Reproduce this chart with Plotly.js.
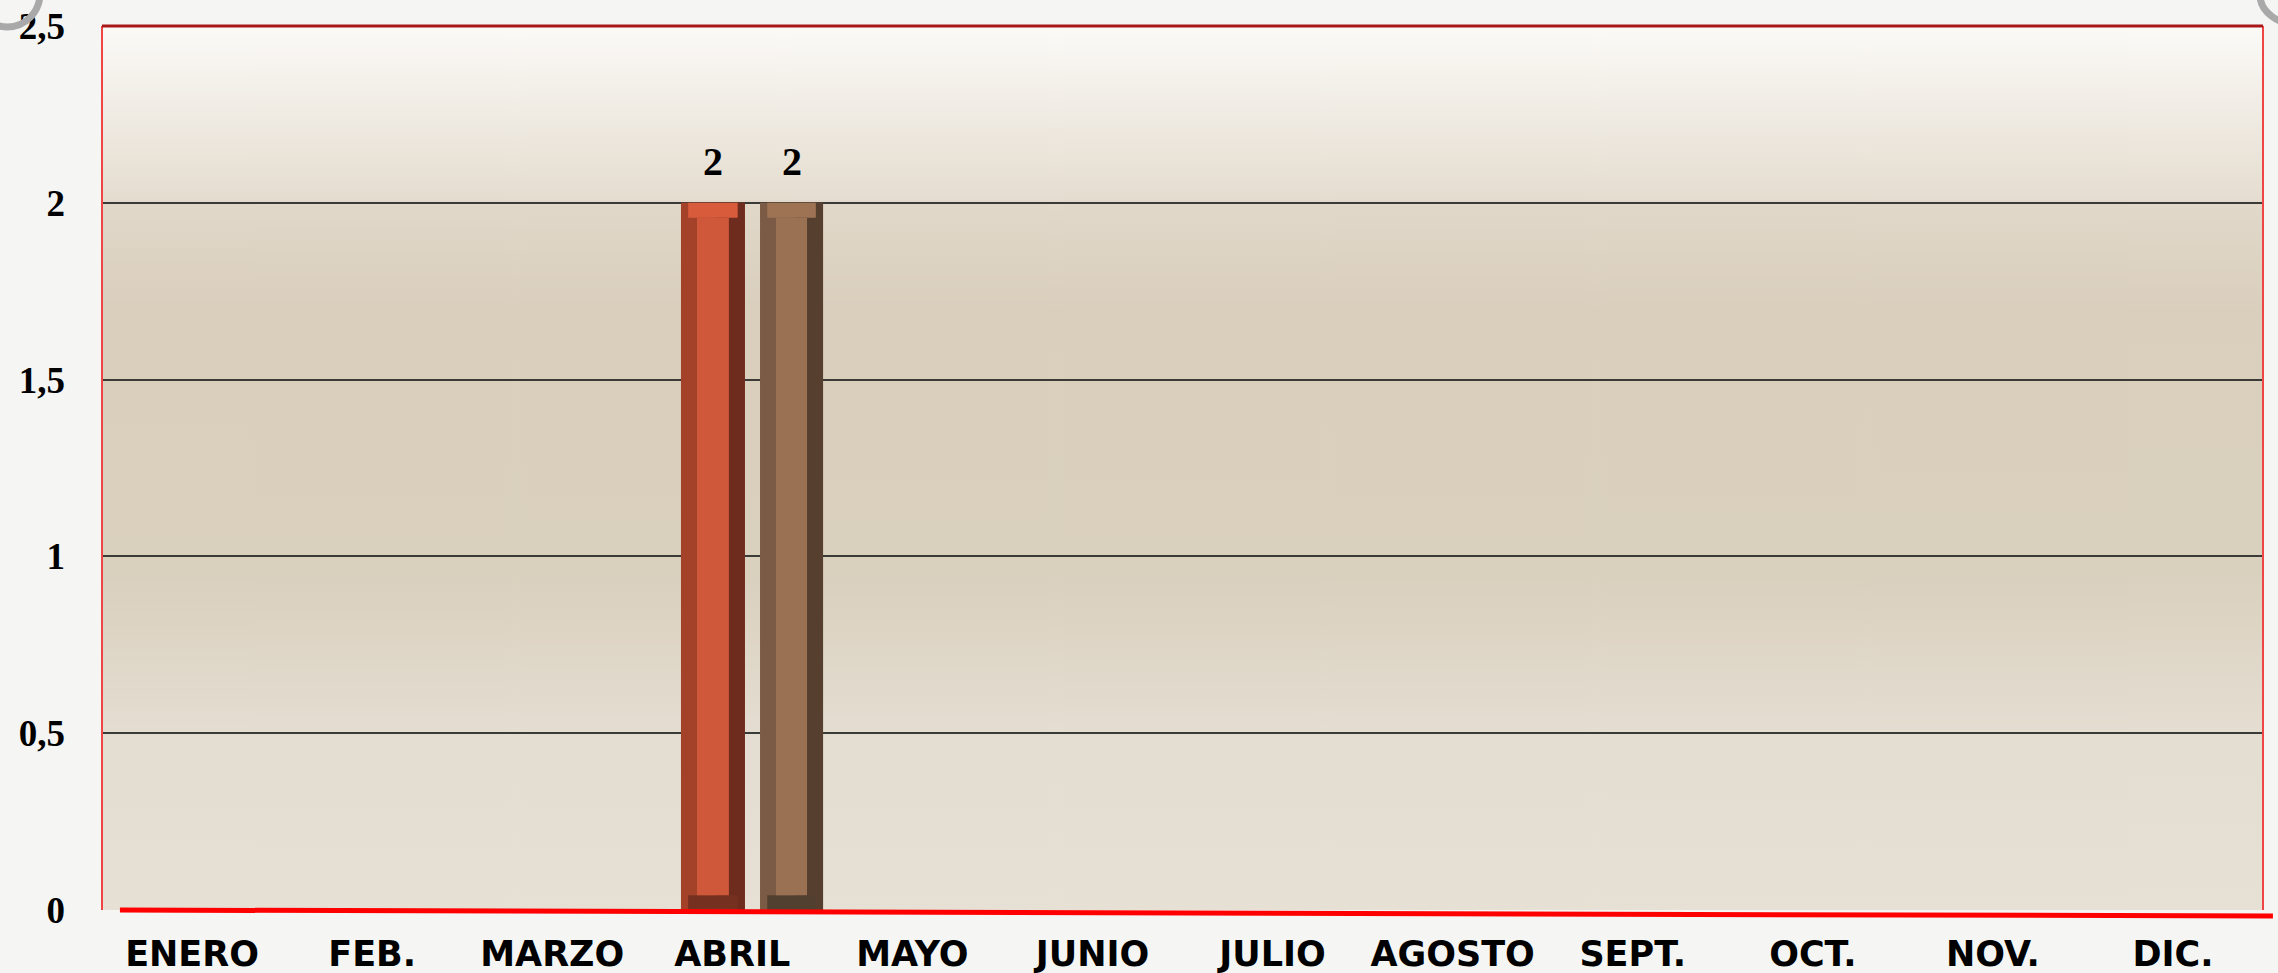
<!DOCTYPE html>
<html>
<head>
<meta charset="utf-8">
<script src="https://cdn.plot.ly/plotly-3.0.1.min.js"></script>
<style>
html,body{margin:0;padding:0;background:#F5F5F4;}
#chart{width:2278px;height:973px;}
</style>
</head>
<body>
<div id="chart"></div>
<script>
// ---- data ----
const categories = ['ENERO','FEB.','MARZO','ABRIL','MAYO','JUNIO','JULIO','AGOSTO','SEPT.','OCT.','NOV.','DIC.'];
const series1 = [0,0,0,2,0,0,0,0,0,0,0,0];
const series2 = [0,0,0,2,0,0,0,0,0,0,0,0];
const yTickVals = [0,0.5,1,1.5,2,2.5];

// ---- styling ----
const bevelX = 0.089;   // bevel width in category units
const bevelY = 0.042;   // bevel height in y units
const barDefs = [
  {vals: series1, offset: -0.285, width: 0.355, left: '#A34129', right: '#6E2C1E', face: '#CF573A', top: '#D85B3C', bottom: '#76301F'},
  {vals: series2, offset: 0.154, width: 0.35, left: '#7B5B45', right: '#573F30', face: '#9A7253', top: '#9D7354', bottom: '#51402F'}
];

const traces = [];
barDefs.forEach(d => {
  traces.push({type:'bar', x:categories, y:d.vals, offset:d.offset, width:d.width,
    marker:{color:d.left, line:{width:0}}, hoverinfo:'skip', showlegend:false});
  traces.push({type:'bar', x:categories, y:d.vals, offset:d.offset + d.width*0.55, width:d.width*0.45,
    marker:{color:d.right, line:{width:0}}, hoverinfo:'skip', showlegend:false});
  traces.push({type:'bar', x:categories,
    y:d.vals.map(v => v > 0 ? bevelY : 0),
    base:d.vals.map(v => v > 0 ? v - bevelY : 0),
    offset:d.offset + bevelX*0.45, width:d.width - bevelX*0.9,
    marker:{color:d.top, line:{width:0}}, hoverinfo:'skip', showlegend:false});
  traces.push({type:'bar', x:categories,
    y:d.vals.map(v => v > 0 ? bevelY : 0),
    offset:d.offset + bevelX*0.45, width:d.width - bevelX*0.9,
    marker:{color:d.bottom, line:{width:0}}, hoverinfo:'skip', showlegend:false});
  traces.push({type:'bar', x:categories,
    y:d.vals.map(v => v > 0 ? v - 2*bevelY : 0),
    base:d.vals.map(v => v > 0 ? bevelY : 0),
    offset:d.offset + bevelX, width:d.width - 2*bevelX,
    marker:{color:d.face, line:{width:0}}, hoverinfo:'skip', showlegend:false});
});

const annotations = [];
barDefs.forEach(d => {
  d.vals.forEach((v, i) => {
    if (v > 0) {
      annotations.push({x: i + d.offset + d.width/2, y: v, xref:'x', yref:'y',
        text: String(v), showarrow:false, yanchor:'bottom', yshift:17,
        font:{family:'Liberation Serif, serif', size:40, color:'#000', weight:700}});
    }
  });
});

function gradientImage() {
  const c = document.createElement('canvas');
  c.width = 8; c.height = 884;
  const g = c.getContext('2d');
  const gr = g.createLinearGradient(0,0,0,884);
  gr.addColorStop(0, '#FBFAF7');
  gr.addColorStop(0.195, '#E5DDD0');
  gr.addColorStop(0.2, '#E1D8CA');
  gr.addColorStop(0.32, '#DACFBD');
  gr.addColorStop(0.62, '#DAD0BE');
  gr.addColorStop(0.8, '#E4DDD1');
  gr.addColorStop(1, '#E6E0D5');
  g.fillStyle = gr;
  g.fillRect(0,0,8,884);
  return c.toDataURL();
}

const layout = {
  width: 2278, height: 973,
  margin: {l:102, r:15, t:26, b:63, pad:0},
  paper_bgcolor: '#F5F5F4',
  plot_bgcolor: 'rgba(0,0,0,0)',
  separators: ',.',
  barmode: 'overlay',
  showlegend: false,
  xaxis: {
    type:'category', range:[-0.5, 11.5], showgrid:false, zeroline:false, showline:false,
    ticks:'', ticklabelstandoff: 20,
    tickfont:{family:'DejaVu Sans, sans-serif', size:35, color:'#000', weight:700}
  },
  yaxis: {
    range:[0, 2.5], tickvals: yTickVals, showgrid:true, gridcolor:'#3A3A36', gridwidth:2,
    zeroline:false, showline:false, ticks:'', ticklabelstandoff: 36,
    tickfont:{family:'Liberation Serif, serif', size:37, color:'#000', weight:700}
  },
  images: [{source: gradientImage(), xref:'paper', yref:'paper', x:0, y:1, sizex:1, sizey:1,
    sizing:'stretch', xanchor:'left', yanchor:'top', layer:'below'}],
  shapes: [
    {type:'line', xref:'paper', yref:'paper', x0:0, x1:0, y0:0, y1:1, line:{color:'#F04545', width:2}},
    {type:'line', xref:'paper', yref:'paper', x0:1, x1:1, y0:0, y1:1, line:{color:'#F04545', width:2}},
    {type:'line', xref:'paper', yref:'paper', x0:0, x1:1, y0:1, y1:1, line:{color:'#A81818', width:3}},
    {type:'line', xref:'paper', yref:'paper', x0:0.0083, x1:1.0046, y0:0, y1:-0.0068, line:{color:'#FF0000', width:5}},
    // decorative binding rings at the corners
    {type:'circle', xref:'paper', yref:'paper', x0:-0.0588, x1:-0.0287, y0:0.9989, y1:1.0747,
      line:{color:'#A9A9A9', width:7}, fillcolor:'rgba(0,0,0,0)', layer:'above'},
    {type:'circle', xref:'paper', yref:'paper', x0:0.9986, x1:1.0356, y0:1.0011, y1:1.069,
      line:{color:'#A9A9A9', width:7}, fillcolor:'rgba(0,0,0,0)', layer:'above'}
  ],
  annotations: annotations
};

Plotly.newPlot('chart', traces, layout, {displayModeBar:false, staticPlot:true});
</script>
</body>
</html>
